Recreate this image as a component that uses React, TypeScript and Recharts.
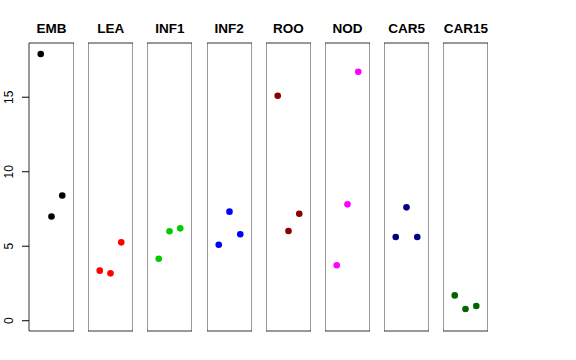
import React from 'react';
import { ScatterChart, Scatter, XAxis, YAxis, ReferenceArea } from 'recharts';

// panel names and colours
const panels = ['EMB', 'LEA', 'INF1', 'INF2', 'ROO', 'NOD', 'CAR5', 'CAR15'];
const panelColors = ['#000000', '#FF0000', '#00CD00', '#0000FF', '#8B0000', '#FF00FF', '#000080', '#006400'];

// three replicates per panel
const embValues = [17.9, 7.0, 8.4];
const leaValues = [3.36, 3.18, 5.26];
const inf1Values = [4.16, 6.0, 6.2];
const inf2Values = [5.1, 7.32, 5.8];
const rooValues = [15.1, 6.02, 7.18];
const nodValues = [3.72, 7.81, 16.71];
const car5Values = [5.62, 7.61, 5.62];
const car15Values = [1.7, 0.79, 0.99];

const panelValues = [embValues, leaValues, inf1Values, inf2Values, rooValues, nodValues, car5Values, car15Values];
const yTicks = [0, 5, 10, 15];

const Y_DOMAIN: [number, number] = [-0.69, 18.64];
const X_DOMAIN: [number, number] = [-0.09, 4.09];
const PANEL_W = 45;
const PANEL_H = 288;
const TOP = 43;
const AXIS_W = 29;
const STEP = 59.2;

const Dot = (props: any) => {
  const { cx, cy, fill } = props;
  return <circle cx={cx} cy={cy} r={3.3} fill={fill} />;
};

const YTick = (props: any) => {
  const { y, payload } = props;
  return (
    <text
      x={13.5}
      y={y}
      transform={`rotate(-90, 13.5, ${y})`}
      textAnchor="middle"
      fontSize={12}
      fontFamily="Liberation Sans, Arial, sans-serif"
      fill="#000"
    >
      {payload.value}
    </text>
  );
};

const Panel = ({ idx }: { idx: number }) => {
  const withAxis = idx === 0;
  const data = panelValues[idx].map((v, i) => ({ x: i + 1, y: v }));
  const left = withAxis ? 0 : AXIS_W + idx * STEP;
  const width = withAxis ? AXIS_W + PANEL_W : PANEL_W;
  return (
    <div style={{ position: 'absolute', left, top: 0 }}>
      <div
        style={{
          position: 'absolute',
          left: withAxis ? AXIS_W - 5 : -5,
          width: PANEL_W + 10,
          top: 21,
          textAlign: 'center',
          fontFamily: 'Liberation Sans, Arial, sans-serif',
          fontWeight: 'bold',
          fontSize: 13.5,
          lineHeight: '16px',
        }}
      >
        {panels[idx]}
      </div>
      <ScatterChart
        width={width}
        height={TOP + PANEL_H + 2}
        margin={{ top: TOP, right: 0, bottom: 2, left: 0 }}
      >
        <XAxis type="number" dataKey="x" domain={X_DOMAIN} hide />
        <YAxis
          type="number"
          dataKey="y"
          domain={Y_DOMAIN}
          allowDataOverflow
          ticks={yTicks}
          hide={!withAxis}
          width={AXIS_W}
          axisLine={false}
          tickLine={{ stroke: '#000' }}
          tickSize={7}
          tick={<YTick />}
          interval={0}
        />
        <ReferenceArea
          x1={X_DOMAIN[0]}
          x2={X_DOMAIN[1]}
          y1={Y_DOMAIN[0]}
          y2={Y_DOMAIN[1]}
          fill="none"
          fillOpacity={0}
          stroke="#333"
          strokeWidth={1}
          ifOverflow="visible"
        />
        <Scatter data={data} fill={panelColors[idx]} shape={<Dot />} isAnimationActive={false} />
      </ScatterChart>
    </div>
  );
}

export default function App() {
  return (
    <div style={{ position: 'absolute', left: 0, top: 0, width: 576, height: 360, background: '#fff' }}>
      {panels.map((_, i) => (
        <Panel key={i} idx={i} />
      ))}
    </div>
  );
}
